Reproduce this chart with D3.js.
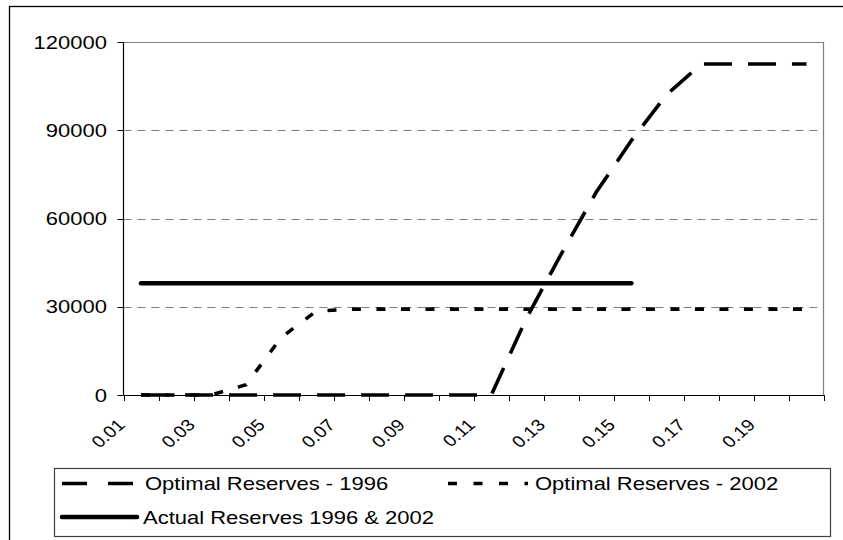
<!DOCTYPE html>
<html><head><meta charset="utf-8">
<script src="https://cdn.jsdelivr.net/npm/d3@7"></script>
<style>html,body{margin:0;padding:0;background:#fff;} svg{display:block;font-family:"Liberation Sans",Arial,sans-serif;}</style>
</head><body><svg id="c" width="843" height="540"></svg>
<script>
const categories = ["0.01","0.02","0.03","0.04","0.05","0.06","0.07","0.08","0.09","0.10","0.11","0.12","0.13","0.14","0.15","0.16","0.17","0.18","0.19","0.20"];
const optimal1996 = [0,0,0,0,0,0,0,0,0,0,0,26000,48000,69000,86500,102000,112500,112500,112500,112500];
const optimal2002 = [0,0,0,3500,19500,28500,29200,29200,29200,29200,29200,29200,29200,29200,29200,29200,29200,29200,29200,29200];
const actualReserves = [38000,38000,38000,38000,38000,38000,38000,38000,38000,38000,38000,38000,38000,38000,38000,null,null,null,null,null];
const xTickLabels = ["0.01","0.03","0.05","0.07","0.09","0.11","0.13","0.15","0.17","0.19"];
const yTickValues = [0,30000,60000,90000,120000];
const seriesNames = ["Optimal Reserves - 1996","Optimal Reserves - 2002","Actual Reserves 1996 & 2002"];

const W = 843, H = 540, SX = 1.17;
const svg = d3.select("#c");

// outer chart border
svg.append("rect").attr("x",9.5).attr("y",6.5).attr("width",W).attr("height",H)
  .attr("fill","#fff").attr("stroke","#000").attr("stroke-width",1.3);

const L = 123.5, R = 824, T = 42, B = 395;
const x = d3.scaleBand().domain(categories).range([L, R]).padding(0);
const y = d3.scaleLinear().domain([0,120000]).range([B, T]);
const cx = c => x(c) + x.bandwidth()/2;

// gridlines
svg.append("g").selectAll("line").data(yTickValues.filter(v => v > 0 && v < 120000)).join("line")
  .attr("x1", L).attr("x2", R).attr("y1", d => Math.round(y(d)) + 0.5).attr("y2", d => Math.round(y(d)) + 0.5)
  .attr("stroke","#808080").attr("stroke-width",1).attr("stroke-dasharray","8,6");
// plot area border top/right
svg.append("path").attr("d", `M${L},${Math.round(y(120000))+0.5}H${R-0.5}V${B}`)
  .attr("fill","none").attr("stroke","#808080").attr("stroke-width",1.2);

// series
const line = d3.line().defined(d => d.v !== null).x(d => cx(d.c)).y(d => y(d.v));
const mk = arr => categories.map((c,i) => ({c, v: arr[i]}));
svg.append("path").datum(mk(optimal1996)).attr("d", line).attr("fill","none")
  .attr("stroke","#000").attr("stroke-width",3.6).attr("stroke-dasharray","28,16");
svg.append("path").datum(mk(optimal2002)).attr("d", line).attr("fill","none")
  .attr("stroke","#000").attr("stroke-width",3.6).attr("stroke-dasharray","9,15.5");
svg.append("path").datum(mk(actualReserves)).attr("d", line).attr("fill","none")
  .attr("stroke","#000").attr("stroke-width",4.6).attr("stroke-linecap","round");

// y axis
const ya = svg.append("g");
ya.append("line").attr("x1",L).attr("x2",L).attr("y1",T).attr("y2",B).attr("stroke","#000").attr("stroke-width",1.2);
ya.selectAll(".t").data(yTickValues).join("line").attr("class","t")
  .attr("x1",L-6).attr("x2",L).attr("y1",d=>Math.round(y(d))+0.5).attr("y2",d=>Math.round(y(d))+0.5)
  .attr("stroke","#000").attr("stroke-width",1);
ya.selectAll("text").data(yTickValues).join("text")
  .attr("transform", d => `translate(107,${y(d)}) scale(${SX},1)`)
  .attr("text-anchor","end").attr("dy","0.35em").attr("font-size",18.8).attr("fill","#000")
  .text(d => d);

// x axis
const xa = svg.append("g");
xa.append("line").attr("x1",L).attr("x2",R).attr("y1",B+0.5).attr("y2",B+0.5).attr("stroke","#000").attr("stroke-width",1.2);
xa.selectAll(".t").data(categories.map(c => x(c)).concat([R])).join("line").attr("class","t")
  .attr("x1",d=>Math.round(d)+0.5).attr("x2",d=>Math.round(d)+0.5).attr("y1",B).attr("y2",B+6)
  .attr("stroke","#000").attr("stroke-width",1);
xa.selectAll("text").data(xTickLabels).join("text")
  .attr("transform", d => `translate(${cx(d)-15},426) scale(${SX},1) rotate(-45)`)
  .attr("text-anchor","end").attr("font-size",16.5).attr("fill","#000")
  .text(d => d);

// legend
const lg = svg.append("g");
lg.append("rect").attr("x",54.5).attr("y",468.5).attr("width",776).attr("height",68)
  .attr("fill","#fff").attr("stroke","#404040").attr("stroke-width",1.2);
const items = [
  {name: seriesNames[0], x0: 62, x1: 136, ly: 483.5, ty: 490, tx: 145, w: 3.6, dash: "25,21", cap: "butt"},
  {name: seriesNames[1], x0: 448, x1: 528, ly: 483.5, ty: 490, tx: 535, w: 3.6, dash: "9,16.5", cap: "butt"},
  {name: seriesNames[2], x0: 62, x1: 137, ly: 517, ty: 524, tx: 143, w: 4.6, dash: null, cap: "round"}
];
items.forEach(it => {
  lg.append("line").attr("x1",it.x0).attr("x2",it.x1).attr("y1",it.ly).attr("y2",it.ly)
    .attr("stroke","#000").attr("stroke-width",it.w).attr("stroke-dasharray",it.dash).attr("stroke-linecap",it.cap);
  lg.append("text").attr("transform",`translate(${it.tx},${it.ty}) scale(${SX},1)`)
    .attr("font-size",18.8).attr("fill","#000").text(it.name);
});
</script></body></html>
